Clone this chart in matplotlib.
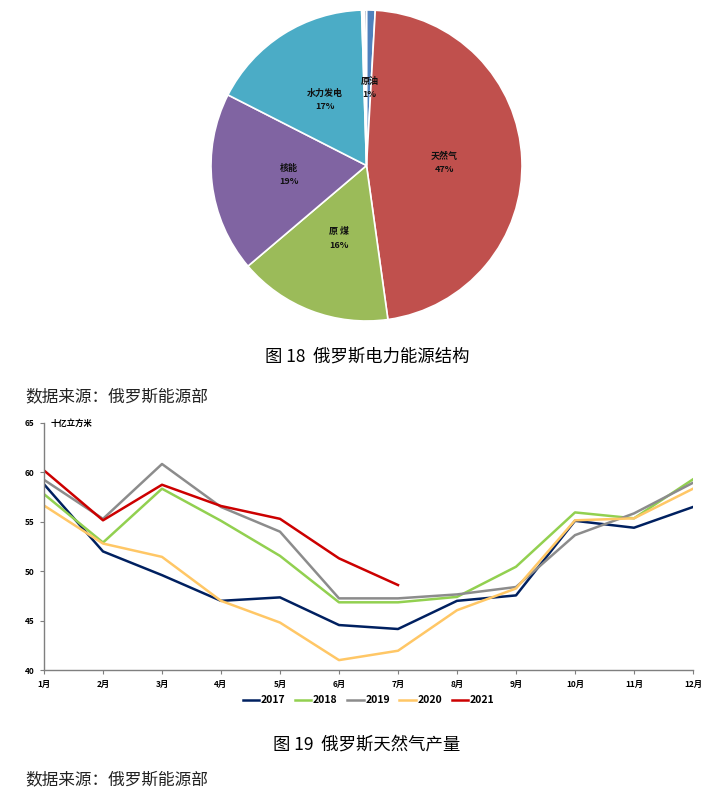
import matplotlib
matplotlib.use("Agg")
import matplotlib.pyplot as plt

plt.rcParams['font.family'] = ['Noto Sans CJK SC', 'DejaVu Sans']

# ---------------- data ----------------
pie_labels = ['原油', '天然气', '原煤', '核能', '水力发电', '', '']
pie_values = [0.9, 46.9, 16.0, 18.7, 17.0, 0.3, 0.2]
pie_show = [True, True, True, True, True, False, False]

months = ['1月', '2月', '3月', '4月', '5月', '6月', '7月', '8月', '9月', '10月', '11月', '12月']
years = ['2017', '2018', '2019', '2020', '2021']
gas_2017 = [58.8, 52.0, 49.6, 47.0, 47.35, 44.55, 44.15, 47.0, 47.55, 55.1, 54.4, 56.5]
gas_2018 = [57.8, 52.9, 58.35, 55.1, 51.55, 46.85, 46.85, 47.4, 50.45, 55.95, 55.35, 59.3]
gas_2019 = [59.25, 55.3, 60.85, 56.5, 54.0, 47.25, 47.25, 47.65, 48.4, 53.65, 55.85, 58.95]
gas_2020 = [56.65, 52.8, 51.45, 47.0, 44.8, 41.0, 41.95, 46.05, 48.25, 55.15, 55.35, 58.35]
gas_2021 = [60.2, 55.15, 58.75, 56.6, 55.3, 51.3, 48.6]

W, H = 712, 802
fig = plt.figure(figsize=(W / 100, H / 100), dpi=100)

def fx(px):
    return px / W

def fy(py):
    return 1 - py / H

# ---------------- pie ----------------
cx, cy, r = 366.5, 165.5, 155.5
axp = fig.add_axes([fx(cx - r), fy(cy + r), fx(2 * r), (2 * r) / H])
pie_colors = ['#4F81BD', '#C0504D', '#9BBB59', '#8064A2', '#4BACC6', '#FFFFFF', '#1F3864']
axp.pie(pie_values, colors=pie_colors, startangle=90, counterclock=False,
        wedgeprops=dict(edgecolor='white', linewidth=1.2), radius=1)
axp.set_xlim(-1, 1)
axp.set_ylim(-1, 1)
axp.set_aspect('equal')
axp.axis('off')
label_pos = [(0.02, 0.5), (0.5, 0.015), (-0.18, -0.47), (-0.5, -0.06), (-0.27, 0.42)]
total = sum(pie_values)
i_pos = 0
for lab, val, show in zip(pie_labels, pie_values, pie_show):
    if not show:
        continue
    x, y = label_pos[i_pos]
    i_pos += 1
    name = '原 煤' if lab == '原煤' else lab
    axp.text(x, y, f"{name}\n{round(val / total * 100):.0f}%", ha='center', va='center',
             fontsize=6.5, fontweight='bold', linespacing=1.6, color='#111111')

fig.text(fx(367), fy(357), '图 18  俄罗斯电力能源结构', ha='center', va='center', fontsize=12.5)
fig.text(fx(25), fy(397), '数据来源：俄罗斯能源部', ha='left', va='center', fontsize=12,
         style='italic', color='#222222')

# ---------------- line chart ----------------
axl = fig.add_axes([fx(44), fy(670), fx(693 - 44), (670 - 423) / H])
xs = list(range(len(months)))
series = [gas_2017, gas_2018, gas_2019, gas_2020, gas_2021]
line_colors = ['#002060', '#92D050', '#8C8C8C', '#FFC766', '#CC0000']
for name, vals, col in zip(years, series, line_colors):
    axl.plot(xs[:len(vals)], vals, color=col, lw=1.8, label=name)

axl.set_xlim(0, 11)
axl.set_ylim(40, 65)
axl.set_yticks([40, 45, 50, 55, 60, 65])
axl.set_xticks(xs)
axl.set_xticklabels(months)
for s in ['top', 'right']:
    axl.spines[s].set_visible(False)
for s in ['left', 'bottom']:
    axl.spines[s].set_color('#7F7F7F')
    axl.spines[s].set_linewidth(1.0)
axl.tick_params(axis='both', direction='out', length=3, width=0.8, color='#7F7F7F',
                labelsize=6, pad=4)
for t in axl.get_xticklabels() + axl.get_yticklabels():
    t.set_fontweight('bold')
axl.text(0.01, 1.0, '十亿立方米', transform=axl.transAxes, ha='left', va='center',
         fontsize=6, fontweight='bold')
axl.legend(loc='upper center', bbox_to_anchor=(0.5, -0.065), ncol=5, frameon=False,
           handlelength=1.6, handletextpad=0.15, columnspacing=0.9,
           prop=dict(weight='bold', size=7.5))

fig.text(fx(367), fy(745), '图 19  俄罗斯天然气产量', ha='center', va='center', fontsize=12.5)
fig.text(fx(25), fy(780), '数据来源：俄罗斯能源部', ha='left', va='center', fontsize=12,
         style='italic', color='#222222')

fig.savefig('out.png', dpi=100)
